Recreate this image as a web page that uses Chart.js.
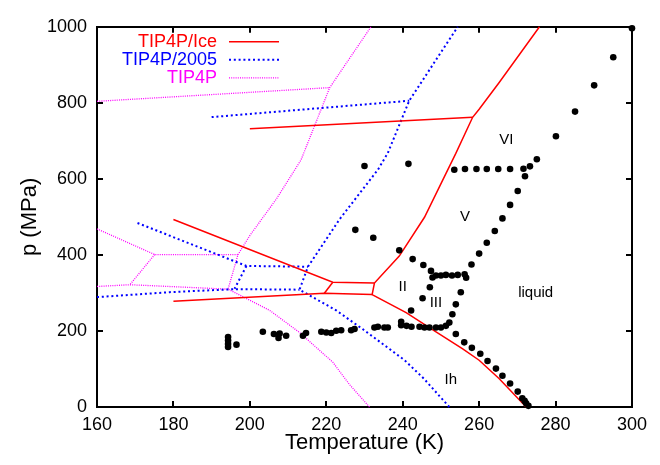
<!DOCTYPE html>
<html>
<head>
<meta charset="utf-8">
<title>Phase diagram of water models</title>
<script src="https://cdn.jsdelivr.net/npm/chart.js@4.4.1/dist/chart.umd.min.js"></script>
<style>
  html, body { margin: 0; padding: 0; background: #fff; }
  #wrap { width: 660px; height: 465px; }
</style>
</head>
<body>
<div id="wrap"><canvas id="myChart" width="660" height="465"></canvas></div>
<script>
const FONT = "'Liberation Sans', Arial, Helvetica, sans-serif";

// axis ranges
const tMin = 160, tMax = 300, tStep = 20;
const pMin = 0, pMax = 1000, pStep = 200;

// coexistence lines, [T (K), p (MPa)]
// TIP4P/Ice
const iceMelt = [[272.3, 0], [265.2, 75], [260, 123], [255.7, 153], [248, 202], [240.9, 248], [232, 295.6],
	[232.6, 326], [239.1, 397], [245.7, 499], [251.3, 614], [253.9, 667], [258.3, 762], [260, 783], [265.2, 853], [275.8, 1000]];
const iceLow = [[180, 278], [219.5, 299], [232, 295.6]];
const iceUp = [[180, 493], [221.7, 328], [232.6, 326]];
const iceMid = [[221.7, 328], [219.5, 299]];
const iceVVI = [[200, 732], [258.3, 762]];

// TIP4P/2005
const t05Melt = [[252.2, 0], [245.5, 75], [240.5, 123], [236.5, 153], [229.5, 205], [222.6, 254], [213, 308.6],
	[215.2, 369], [223.5, 494], [233.5, 624], [236.1, 668], [241.7, 805.5], [254.4, 1000]];
const t05Up = [[170.6, 484], [199.1, 371], [215.2, 369]];
const t05Mid = [[199.1, 371], [196, 311]];
const t05Low = [[160, 289], [179, 302], [196, 310], [213, 308.6]];
const t05VVI = [[190, 762.5], [241.7, 805.5]];

// TIP4P
const t4Melt = [[231.3, 0], [226, 60], [221.7, 118], [217, 160], [213, 196], [205.2, 254], [194.3, 310],
	[196.9, 401], [200, 451], [207, 548], [213.4, 650], [220.9, 840], [231.7, 1000]];
const t4Up = [[160, 468.5], [175.1, 401], [196.9, 401]];
const t4Mid = [[175.1, 401], [168.6, 321.6]];
const t4Low = [[160, 317], [168.6, 321.6], [194.3, 310]];
const t4VVI = [[160, 804], [220.9, 840]];

// experimental points
const expPoints = [
	[194.3, 158], [194.3, 166], [194.3, 175], [194.3, 184], [196.5, 164], [203.4, 198], [206.3, 192], [207.8, 193.5],
	[207.5, 181.5], [209.5, 187.5], [213.9, 187.5], [214.7, 194.5], [218.7, 198], [220, 196], [221.3, 194.5],
	[222.6, 200.5], [223.9, 202], [226.5, 202], [227.4, 205], [232.6, 209], [233.5, 211], [235.2, 209], [236.1, 209],
	[239.6, 224], [239.6, 215], [241, 213.5], [242.3, 211], [244.4, 211], [245.7, 209], [247, 209], [248.7, 209],
	[250, 209], [251.3, 213.5], [252.2, 222], [253, 244], [253.9, 270], [255.2, 302],
	[253.9, 192], [256.1, 170], [258.1, 155.6], [260.3, 140], [262.2, 121], [264.4, 101], [266.1, 82], [268.1, 62],
	[270.1, 40.5], [271.3, 23], [271.9, 16], [272.3, 10], [272.9, 3],
	[247.8, 340.5], [248.7, 346], [250, 346], [251.3, 347.5], [252.9, 346], [254.4, 347.5], [256.2, 349], [256.6, 340],
	[247.4, 358], [245.4, 373.5], [242.6, 389], [239.1, 412], [232.3, 445], [227.6, 466],
	[247.1, 315], [245.2, 286], [242.2, 254],
	[258, 375], [260, 403.5], [262, 432], [264.1, 463], [266.1, 496], [268.1, 531.6], [270.1, 568], [272, 607],
	[253.5, 624], [256.3, 626], [259.3, 626], [262, 626], [265, 626], [268.1, 626], [271.6, 626.6], [273.3, 633], [275.1, 651.7],
	[280.1, 712], [285.1, 777], [290.1, 846], [295.1, 920], [300, 996],
	[230, 634], [241.5, 639.5]
];

const modelNames = ['TIP4P/Ice', 'TIP4P/2005', 'TIP4P'];
const regionNames = ['VI', 'V', 'II', 'III', 'liquid', 'Ih'];
const regionAt = [[267.1, 703], [256.3, 500], [240, 317], [248.7, 274], [274.8, 300], [252.6, 71]];

const styles = [
	{ color: '#ff0000', width: 1.5, dash: [] },
	{ color: '#0000ff', width: 2, dash: [2, 2.8] },
	{ color: '#ff00ff', width: 1.3, dash: [1, 1.2] },
];

const toXY = (arr) => arr.map((d) => ({ x: d[0], y: d[1] }));

const lineSet = function (arr, model) {
	const s = styles[model];
	return {
		label: modelNames[model],
		data: toXY(arr),
		showLine: true,
		borderColor: s.color,
		borderWidth: s.width,
		borderDash: s.dash,
		pointRadius: 0,
		fill: false,
		clip: false,
		order: 1,
	};
};

// key and phase labels
const decorations = {
	id: 'decorations',
	afterDraw(chart) {
		const ctx = chart.ctx;
		const xs = chart.scales.x;
		const ys = chart.scales.y;
		const left = xs.getPixelForValue(tMin);
		const top = ys.getPixelForValue(pMax);

		ctx.save();
		ctx.font = '18px ' + FONT;
		ctx.textAlign = 'right';
		ctx.textBaseline = 'middle';
		modelNames.forEach((name, i) => {
			const y = top + 15 + i * 18;
			const s = styles[i];
			ctx.fillStyle = s.color;
			ctx.fillText(name, left + 120, y);
			ctx.strokeStyle = s.color;
			ctx.lineWidth = s.width;
			ctx.setLineDash(s.dash);
			ctx.beginPath();
			ctx.moveTo(left + 132, y);
			ctx.lineTo(left + 182, y);
			ctx.stroke();
		});

		ctx.setLineDash([]);
		ctx.fillStyle = '#000';
		ctx.font = '15px ' + FONT;
		ctx.textAlign = 'center';
		regionNames.forEach((name, i) => {
			ctx.fillText(name, xs.getPixelForValue(regionAt[i][0]), ys.getPixelForValue(regionAt[i][1]));
		});
		ctx.restore();
	},
};

const createChart = function () {
	const datasets = [
		{
			label: 'exp',
			data: toXY(expPoints),
			showLine: false,
			pointRadius: 3.3,
			pointBackgroundColor: '#000',
			pointBorderWidth: 0,
			clip: false,
			order: 0,
		},
		lineSet(iceMelt, 0), lineSet(iceLow, 0), lineSet(iceUp, 0), lineSet(iceMid, 0), lineSet(iceVVI, 0),
		lineSet(t05Melt, 1), lineSet(t05Up, 1), lineSet(t05Mid, 1), lineSet(t05Low, 1), lineSet(t05VVI, 1),
		lineSet(t4Melt, 2), lineSet(t4Up, 2), lineSet(t4Mid, 2), lineSet(t4Low, 2), lineSet(t4VVI, 2),
	];

	const tickFont = { family: FONT, size: 18 };
	const titleFont = { family: FONT, size: 22 };
	const plain = (v) => String(v);
	// ticks pointing into the plot, gnuplot style
	const inward = { display: true, drawOnChartArea: false, drawTicks: true, tickLength: -6, color: '#000', lineWidth: 2 };
	const edge = { display: true, color: '#000', width: 2 };

	const config = {
		type: 'scatter',
		data: { datasets: datasets },
		options: {
			responsive: false,
			animation: false,
			events: [],
			layout: { padding: { top: 19, right: 27, left: 0, bottom: 0 } },
			plugins: {
				legend: { display: false },
				tooltip: { enabled: false },
			},
			scales: {
				x: {
					type: 'linear',
					position: 'bottom',
					min: tMin,
					max: tMax,
					ticks: { stepSize: tStep, color: '#000', font: tickFont, padding: 13, callback: plain },
					grid: inward,
					border: edge,
					title: {
						display: true,
						text: 'Temperature (K)',
						color: '#000',
						font: titleFont,
						padding: { top: 0, bottom: 9 },
					},
					afterFit(scale) { scale.height = 58; },
				},
				x2: {
					type: 'linear',
					axis: 'x',
					position: 'top',
					min: tMin,
					max: tMax,
					ticks: { stepSize: tStep, display: false },
					grid: inward,
					border: edge,
					afterFit(scale) { scale.height = 0; },
				},
				y: {
					type: 'linear',
					position: 'left',
					min: pMin,
					max: pMax,
					ticks: { stepSize: pStep, color: '#000', font: tickFont, padding: 16, callback: plain },
					grid: inward,
					border: edge,
					title: {
						display: true,
						text: 'p (MPa)',
						color: '#000',
						font: titleFont,
						padding: { top: 17, bottom: 0 },
					},
					afterFit(scale) { scale.width = 97; },
				},
				y2: {
					type: 'linear',
					axis: 'y',
					position: 'right',
					min: pMin,
					max: pMax,
					ticks: { stepSize: pStep, display: false },
					grid: inward,
					border: edge,
					afterFit(scale) { scale.width = 0; },
				},
			},
		},
		plugins: [decorations],
	};

	const ctx = document.getElementById('myChart');
	new Chart(ctx, config);
};

document.addEventListener('DOMContentLoaded', createChart);
</script>
</body>
</html>
